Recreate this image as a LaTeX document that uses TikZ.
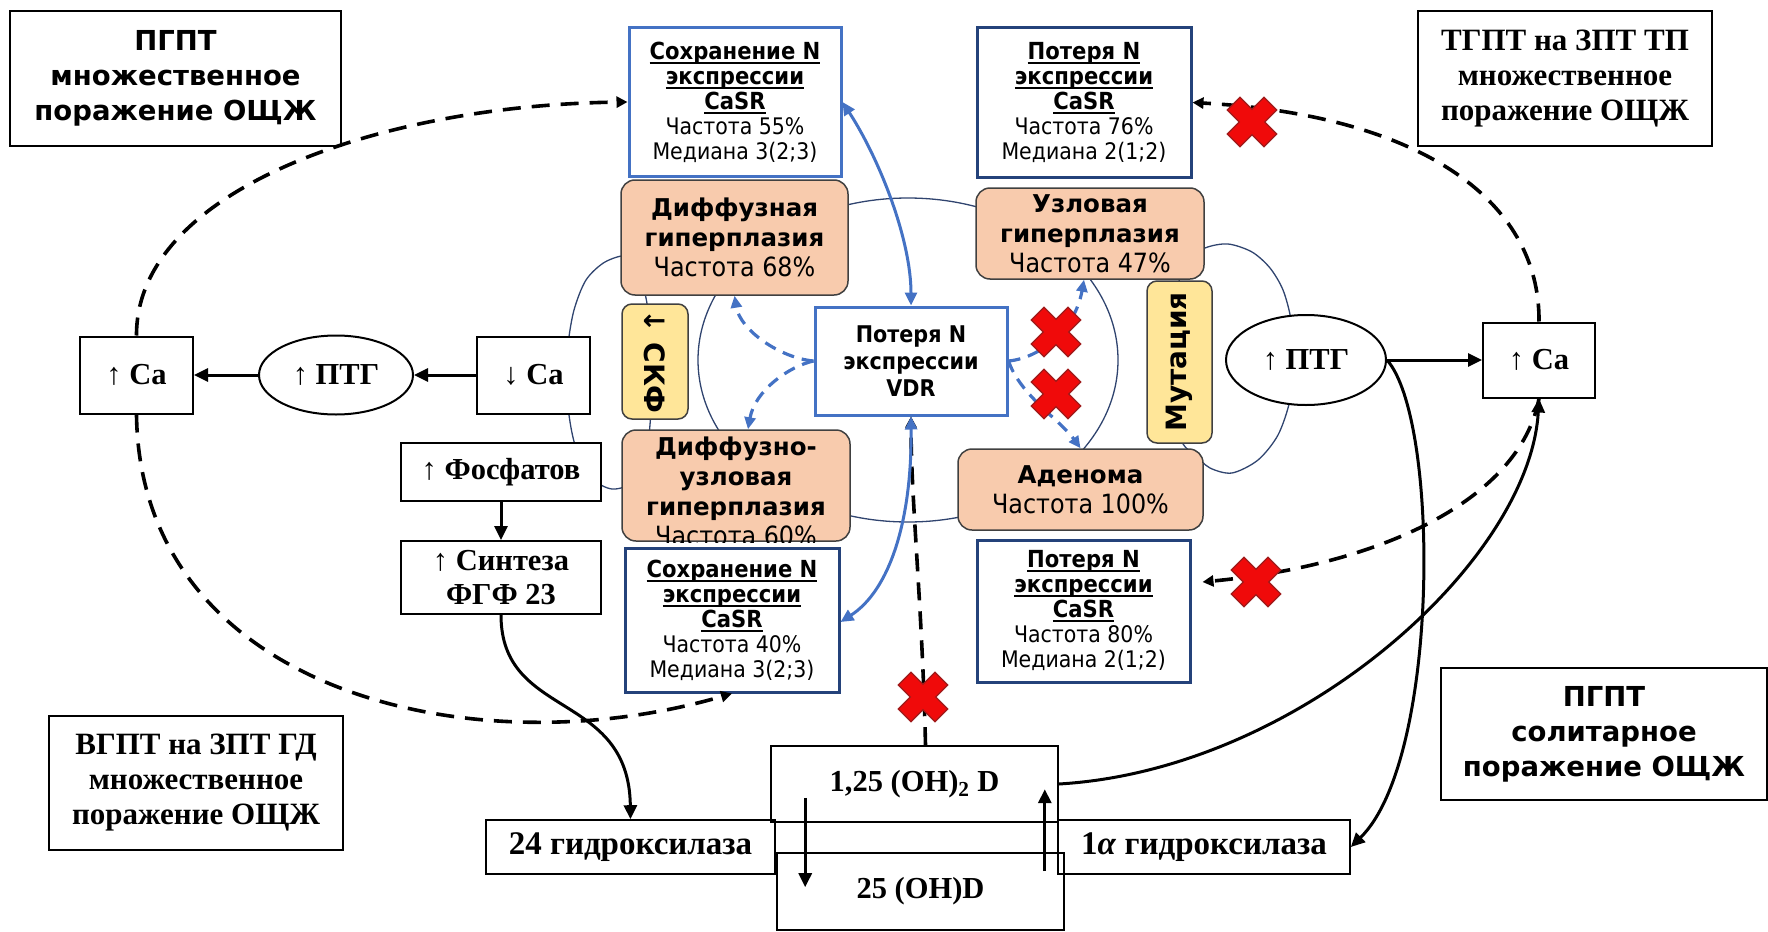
\documentclass[tikz,border=0pt]{standalone}
\usepackage{fontspec}
\setmainfont{Liberation Serif}
\newfontfamily\vsans{DejaVu Sans}
\newfontfamily\tsans{DejaVu Sans Condensed}
\usetikzlibrary{arrows.meta,shapes.geometric}

\definecolor{peach}{HTML}{F8CBAD}
\definecolor{sand}{HTML}{FFE699}
\definecolor{midblue}{HTML}{4472C4}
\definecolor{navy}{HTML}{24427A}
\definecolor{ringblue}{HTML}{30446F}
\definecolor{xred}{HTML}{F00A0A}
\definecolor{xedge}{HTML}{9E1B1B}

\newcommand\undl[1]{\leavevmode\setbox0\hbox{#1}\rlap{\vrule height -2.5pt depth 4.5pt width \wd0}\box0}
\newcommand\freq[1]{{\tsans\mdseries\fontsize{26.5}{30}\selectfont Частота #1\%}}
\newcommand\casrhead[1]{\undl{\bfseries\fontsize{23.5}{25}\selectfont #1}}
\newcommand\up{{\mdseries ↑}}
\newcommand\dn{{\mdseries ↓}}

\tikzset{
  blk/.style={draw, line width=2pt, fill=white, inner sep=0pt, align=center, font=\bfseries\fontsize{30.5}{34}\selectfont},
  hydbox/.style={draw, line width=1.6pt, inner sep=0pt, align=center, font=\bfseries\fontsize{33}{36}\selectfont},
  ttlsans/.style={draw, line width=1.6pt, fill=white, inner sep=0pt, align=center, font=\vsans\bfseries\fontsize{27.5}{35}\selectfont},
  ttlserif/.style={draw, line width=1.6pt, fill=white, inner sep=0pt, align=center, font=\bfseries\fontsize{31}{35}\selectfont},
  peachbox/.style={draw=black!75, line width=1.5pt, fill=peach, rounded corners=14pt, inner sep=0pt, align=center, font=\vsans\bfseries\fontsize{24.5}{30}\selectfont},
  sandbox/.style={draw=black!75, line width=1.5pt, fill=sand, rounded corners=10pt, inner sep=0pt, align=center, font=\vsans\bfseries\fontsize{28}{30}\selectfont},
  casr/.style={draw=navy, line width=3pt, fill=white, inner sep=0pt, align=center, font=\tsans\fontsize{22.8}{25}\selectfont},
  arr/.style={line width=3pt, -{Triangle[length=14pt,width=13pt]}},
  darr/.style={line width=3.6pt, dash pattern=on 18pt off 11pt, -{Triangle[length=11pt,width=11pt]}},
  barr/.style={midblue, line width=3pt, {Triangle[length=13pt,width=12pt]}-{Triangle[length=13pt,width=12pt]}},
  bdarr/.style={midblue, line width=3.2pt, dash pattern=on 12pt off 8pt, -{Triangle[length=12pt,width=11pt]}},
  ring/.style={ringblue, line width=1.3pt},
  redx/.pic={\filldraw[fill=xred, draw=xedge, line width=1.2pt, rotate=45] (9,26) -- (9,9) -- (26,9) -- (26,-9) -- (9,-9) -- (9,-26) -- (-9,-26) -- (-9,-9) -- (-26,-9) -- (-26,9) -- (-9,9) -- (-9,26) -- cycle;}
}

\begin{document}
\begin{tikzpicture}[x=1pt, y=-1pt]
\useasboundingbox (0,0) rectangle (1768,931);

% rings behind the boxes
\draw[ring] (908,360) ellipse [x radius=210pt, y radius=162pt];
\draw[ring] plot[smooth cycle] coordinates {(628,256) (605,262) (586,280) (574,310) (568,345) (567,380) (569,415) (576,448) (592,478) (612,489) (633,482) (646,455) (651,410) (651,360) (648,310) (640,275)};
\draw[ring] plot[smooth cycle] coordinates {(1185,262) (1205,248) (1228,244) (1252,252) (1270,268) (1283,290) (1291,320) (1294,360) (1290,400) (1278,435) (1258,460) (1232,473) (1210,468) (1195,455) (1183,444) (1176,420) (1174,360) (1176,300)};

% titles
\node[ttlsans, minimum width=331pt, minimum height=135pt] (pgptmulti) at (175.5,78.5) {ПГПТ\\множественное\\поражение ОЩЖ};
\node[ttlserif, minimum width=294pt, minimum height=135pt] (tgpt) at (1565,78.5) {ТГПТ на ЗПТ ТП\\множественное\\поражение ОЩЖ};
\node[ttlserif, minimum width=294pt, minimum height=134pt] (vgpt) at (196,783) {ВГПТ на ЗПТ ГД\\множественное\\поражение ОЩЖ};
\node[ttlsans, minimum width=326pt, minimum height=132pt] (pgptsol) at (1604,734) {ПГПТ\\солитарное\\поражение ОЩЖ};

% left chain
\node[blk, minimum width=113pt, minimum height=77pt] (caL) at (136.5,375) {\up\ Ca};
\node[blk, ellipse, minimum width=154pt, minimum height=79pt] (ptgL) at (336,375) {\up\ ПТГ};
\node[blk, minimum width=113pt, minimum height=77pt] (caD) at (533.5,375) {\dn\ Ca};
\node[blk, minimum width=200pt, minimum height=58pt] (phos) at (501,472) {\up\ Фосфатов};
\node[blk, minimum width=200pt, minimum height=73pt] (fgf) at (501,577.5) {\up\ Синтеза\\ФГФ 23};

% right chain
\node[blk, ellipse, minimum width=160pt, minimum height=90pt] (ptgR) at (1306,360) {\up\ ПТГ};
\node[blk, minimum width=112pt, minimum height=75pt] (caR) at (1539,360) {\up\ Ca};

% vitamin D
\node[hydbox, minimum width=289pt, minimum height=54pt] (hyd24) at (630.5,847) {24 гидроксилаза};
\node[hydbox, minimum width=287pt, minimum height=76pt, font=\bfseries\fontsize{30.5}{34}\selectfont] (dOH2) at (914.5,784) {1,25 (OH)\textsubscript{2} D};
\node[hydbox, minimum width=287pt, minimum height=77pt, font=\bfseries\fontsize{30.5}{34}\selectfont] (dOH) at (920.5,891.5) {25 (OH)D};
\node[hydbox, minimum width=292pt, minimum height=54pt] (hyd1a) at (1204,847) {1\textit{α} гидроксилаза};

% hyperplasia
\node[peachbox, minimum width=227pt, minimum height=115pt] (diffz) at (734.5,237.5) {Диффузная\\гиперплазия\\\freq{68}};
\node[peachbox, minimum width=228pt, minimum height=91pt] (uzl) at (1090,233.5) {Узловая\\гиперплазия\\\freq{47}};
\node[peachbox, minimum width=245pt, minimum height=81pt] (aden) at (1080.5,489.5) {Аденома\\\freq{100}};
\node[peachbox, minimum width=228pt, minimum height=111pt] (dnu) at (736,485.5) {};
\begin{scope}
\clip (622,431) rectangle (850,542);
\node[peachbox, draw=none, fill=none] (dnutext) at (736,491) {Диффузно-\\узловая\\гиперплазия\\\freq{60}};
\end{scope}
\node[sandbox, rotate=-90, minimum width=115pt, minimum height=66pt] (skf) at (655,361.5) {↓ СКФ};
\node[sandbox, rotate=90, minimum width=162pt, minimum height=65pt] (mut) at (1179.5,362) {Мутация};

% CaSR and VDR
\node[casr, draw=midblue, minimum width=212pt, minimum height=148pt] (sohrT) at (735,102) {\casrhead{Сохранение N}\\\casrhead{экспрессии}\\\casrhead{CaSR}\\Частота 55\%\\Медиана 3(2;3)};
\node[casr, minimum width=214pt, minimum height=149pt] (potT) at (1084,102.5) {\casrhead{Потеря N}\\\casrhead{экспрессии}\\\casrhead{CaSR}\\Частота 76\%\\Медиана 2(1;2)};
\node[casr, minimum width=214pt, minimum height=144pt] (sohrB) at (732,620) {\casrhead{Сохранение N}\\\casrhead{экспрессии}\\\casrhead{CaSR}\\Частота 40\%\\Медиана 3(2;3)};
\node[casr, minimum width=213pt, minimum height=142pt] (potB) at (1083.5,611) {\casrhead{Потеря N}\\\casrhead{экспрессии}\\\casrhead{CaSR}\\Частота 80\%\\Медиана 2(1;2)};
\node[casr, draw=midblue, minimum width=192pt, minimum height=108pt, font=\tsans\bfseries\fontsize{23}{27}\selectfont] (vdr) at (911,361) {Потеря N\\экспрессии\\VDR};

% solid arrows
\draw[arr] (caD.west) -- (ptgL.east);
\draw[arr] (ptgL.west) -- (caL.east);
\draw[arr] (phos.south) -- (fgf.north);
\draw[arr] (ptgR.east) -- (caR.west);
\draw[arr] (fgf.south) .. controls (501,720) and (629,690) .. (hyd24.north);
\draw[arr] (dOH2.east) .. controls (1300,770) and (1530,560) .. (caR.south);
\draw[arr] (ptgR.east) .. controls (1440,420) and (1440,760) .. (hyd1a.east);
\draw[arr] ([shift={(35,-25)}]dOH2.south west) -- ([shift={(29,35)}]dOH.north west);
\draw[arr] ([shift={(-20,19)}]dOH.north east) -- ([shift={(-14,44)}]dOH2.north east);

% dashed arrows
\draw[darr] (caL.north) .. controls (136,190) and (380,105) .. (sohrT.west);
\draw[darr] (caL.south) .. controls (140,690) and (470,770) .. (sohrB.south);
\draw[darr] (caR.north) .. controls (1540,200) and (1420,115) .. (potT.east);
\draw[darr] (caR.south) .. controls (1520,500) and (1380,565) .. ([shift={(11,-29)}]potB.east);
\draw[darr] ([xshift=11pt]dOH2.north) .. controls (922,600) and (911,500) .. (vdr.south);

% blue arrows
\draw[barr] (sohrT.east) .. controls (880,160) and (911,240) .. (vdr.north);
\draw[barr] (vdr.south) .. controls (912,520) and (890,590) .. ([yshift=-2pt]sohrB.east);
\draw[bdarr] (vdr.west) .. controls (780,358) and (740,330) .. (diffz.south);
\draw[bdarr] (vdr.west) .. controls (790,366) and (755,390) .. ([xshift=12pt]dnu.north);
\draw[bdarr] (vdr.east) .. controls (1040,358) and (1075,330) .. ([xshift=-6pt]uzl.south);
\draw[bdarr] (vdr.east) .. controls (1020,395) and (1060,420) .. (aden.north);

% crosses
\pic at (1252,122) {redx};
\pic at (1256,582) {redx};
\pic at (1056,332) {redx};
\pic at (1056,394) {redx};
\pic at (923,697) {redx};
\end{tikzpicture}
\end{document}
